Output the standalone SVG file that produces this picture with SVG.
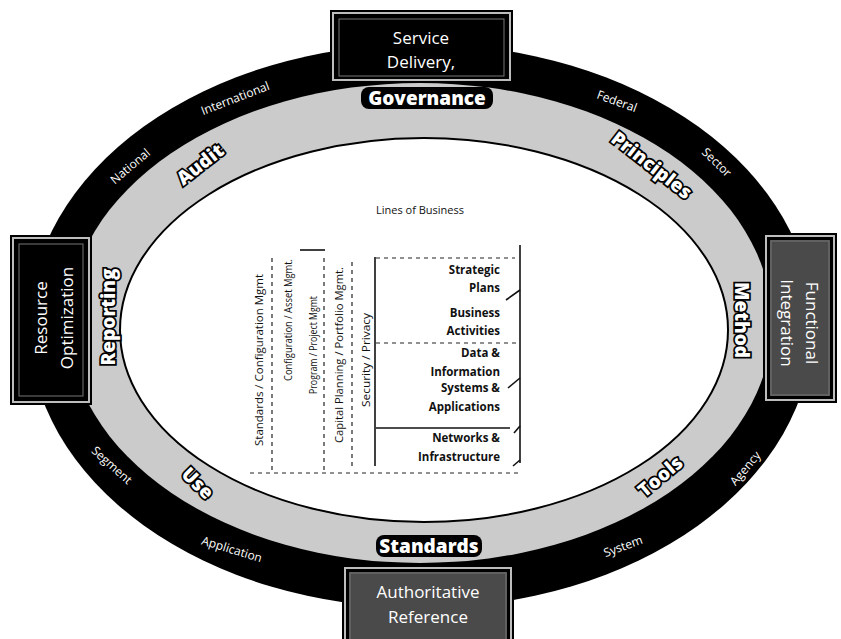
<svg xmlns="http://www.w3.org/2000/svg" width="841" height="639" viewBox="0 0 841 639">
<style>
.boxt{font-family:"Open Sans","Liberation Sans",sans-serif;font-size:17px;fill:#fff;text-anchor:middle}
.ring{font-family:"Open Sans","Liberation Sans",sans-serif;font-size:12px;fill:#fff;text-anchor:middle;dominant-baseline:central}
.mid{font-family:"Open Sans","Liberation Sans",sans-serif;font-size:19px;font-weight:800;fill:#fff;stroke:#000;stroke-width:3.5;paint-order:stroke;text-anchor:middle;dominant-baseline:central}
.pill{font-family:"Open Sans","Liberation Sans",sans-serif;font-size:19px;font-weight:800;fill:#fff;text-anchor:middle;dominant-baseline:central}
.vt{font-family:"Open Sans","Liberation Sans",sans-serif;font-size:11px;fill:#111;text-anchor:middle;dominant-baseline:central}
.rt{font-family:"Open Sans","Liberation Sans",sans-serif;font-size:11.5px;font-weight:700;fill:#111;text-anchor:end}
.bev1{fill:none;stroke:#bdbdbd;stroke-width:2}
.bev2{fill:none;stroke:#777;stroke-width:1}
.ln{stroke:#111;stroke-width:1.6;fill:none}
.dl{stroke:#222;stroke-width:1.2;stroke-dasharray:4 4;fill:none}
</style>
<rect width="841" height="639" fill="#fff"/>
<g id="ring-outer"><ellipse cx="421" cy="326" rx="392" ry="282" fill="#000"/></g>
<g id="ring-middle"><ellipse cx="420" cy="323" rx="352" ry="240" fill="#cbcbcb"/></g>
<g id="inner"><ellipse cx="424" cy="330" rx="304" ry="192" fill="#fff" stroke="#000" stroke-width="2"/></g>

<g id="outer-labels">
<text class="ring" transform="translate(235,98) rotate(-21)">International</text>
<text class="ring" transform="translate(130,166) rotate(-40)">National</text>
<text class="ring" transform="translate(617,101) rotate(20)">Federal</text>
<text class="ring" transform="translate(717,162) rotate(44)">Sector</text>
<text class="ring" transform="translate(112,465) rotate(42)">Segment</text>
<text class="ring" transform="translate(232,549) rotate(17)">Application</text>
<text class="ring" transform="translate(623,546) rotate(-20)">System</text>
<text class="ring" transform="translate(745,468) rotate(-50)">Agency</text>
</g>

<g id="middle-labels">
<rect x="361" y="87" width="132" height="22" rx="8" fill="#000"/>
<text class="pill" x="427" y="98">Governance</text>
<text class="mid" transform="translate(200,164) rotate(-38)">Audit</text>
<text class="mid" transform="translate(652,165) rotate(38)">Principles</text>
<text class="mid" transform="translate(108,317) rotate(-90)">Reporting</text>
<text class="mid" transform="translate(742,320) rotate(90)">Method</text>
<text class="mid" transform="translate(198,483) rotate(45)">Use</text>
<text class="mid" transform="translate(660,476) rotate(-40)">Tools</text>
<rect x="376" y="535" width="106" height="22" rx="8" fill="#000"/>
<text class="pill" x="429" y="546">Standards</text>
</g>

<g id="box-service">
<rect x="330" y="10" width="183" height="73" fill="#000"/>
<rect class="bev1" x="333" y="13" width="177" height="67"/>
<rect class="bev2" x="339" y="19" width="165" height="57"/>
<text class="boxt" x="421" y="44">Service</text>
<text class="boxt" x="421" y="68">Delivery,</text>
</g>
<g id="box-resource">
<rect x="10" y="235" width="82" height="170" fill="#000"/>
<rect class="bev1" x="13" y="238" width="76" height="164"/>
<rect class="bev2" x="19" y="244" width="64" height="152"/>
<text class="boxt" dominant-baseline="central" transform="translate(40,318) rotate(-90)">Resource</text>
<text class="boxt" dominant-baseline="central" transform="translate(66,318) rotate(-90)">Optimization</text>
</g>
<g id="box-functional">
<rect x="763" y="233" width="74" height="170" fill="#000"/>
<rect x="770" y="240" width="60" height="156" fill="#4a4a4a"/>
<rect class="bev1" x="766" y="236" width="68" height="164"/>
<rect class="bev2" x="771" y="241" width="58" height="154"/>
<text class="boxt" dominant-baseline="central" transform="translate(812,323) rotate(90)">Functional</text>
<text class="boxt" dominant-baseline="central" transform="translate(787,323) rotate(90)">Integration</text>
</g>
<g id="box-authoritative">
<rect x="342" y="565" width="172" height="80" fill="#000"/>
<rect x="349" y="572" width="158" height="70" fill="#4a4a4a"/>
<rect class="bev1" x="345" y="568" width="166" height="76"/>
<rect class="bev2" x="350" y="573" width="156" height="70"/>
<text class="boxt" x="428" y="598">Authoritative</text>
<text class="boxt" x="428" y="623">Reference</text>
</g>

<g id="lines-of-business">
<text x="420" y="214" font-family="Open Sans, Liberation Sans, sans-serif" font-size="11" fill="#111" text-anchor="middle">Lines of Business</text>
<text class="vt" transform="translate(258,360) rotate(-90)" textLength="172" lengthAdjust="spacingAndGlyphs">Standards / Configuration Mgmt</text>
<text class="vt" transform="translate(287,320) rotate(-90)" textLength="122" lengthAdjust="spacingAndGlyphs">Configuration / Asset Mgmt.</text>
<text class="vt" transform="translate(312,345) rotate(-90)" textLength="98" lengthAdjust="spacingAndGlyphs">Program / Project Mgmt</text>
<text class="vt" transform="translate(338,355) rotate(-90)" textLength="176" lengthAdjust="spacingAndGlyphs">Capital Planning / Portfolio Mgmt.</text>
<text class="vt" transform="translate(365,360) rotate(-90)" textLength="94" lengthAdjust="spacingAndGlyphs">Security / Privacy</text>
<text class="rt" x="500" y="274">Strategic</text>
<text class="rt" x="500" y="292">Plans</text>
<text class="rt" x="500" y="317">Business</text>
<text class="rt" x="500" y="335">Activities</text>
<text class="rt" x="500" y="357">Data &amp;</text>
<text class="rt" x="500" y="376">Information</text>
<text class="rt" x="500" y="392">Systems &amp;</text>
<text class="rt" x="500" y="411">Applications</text>
<text class="rt" x="500" y="442">Networks &amp;</text>
<text class="rt" x="500" y="461">Infrastructure</text>
</g>

<g id="connectors">
<line class="ln" x1="375" y1="257" x2="375" y2="466"/>
<line class="ln" x1="520" y1="245" x2="520" y2="463"/>
<line class="dl" x1="376" y1="258" x2="515" y2="258"/>
<line class="dl" x1="376" y1="343" x2="516" y2="343"/>
<line class="ln" x1="376" y1="428" x2="510" y2="428"/>
<line class="dl" x1="250" y1="473" x2="518" y2="473"/>
<line class="dl" x1="272" y1="258" x2="272" y2="470"/>
<line class="dl" x1="324" y1="258" x2="324" y2="470"/>
<line class="dl" x1="352" y1="262" x2="352" y2="470"/>
<line class="ln" x1="300" y1="250" x2="325" y2="250"/>
<line class="ln" x1="506" y1="300" x2="520" y2="290"/>
<line class="ln" x1="508" y1="388" x2="520" y2="378"/>
<line class="ln" x1="514" y1="433" x2="520" y2="426"/>
<line class="ln" x1="513" y1="466" x2="520" y2="460"/>
</g>
</svg>
